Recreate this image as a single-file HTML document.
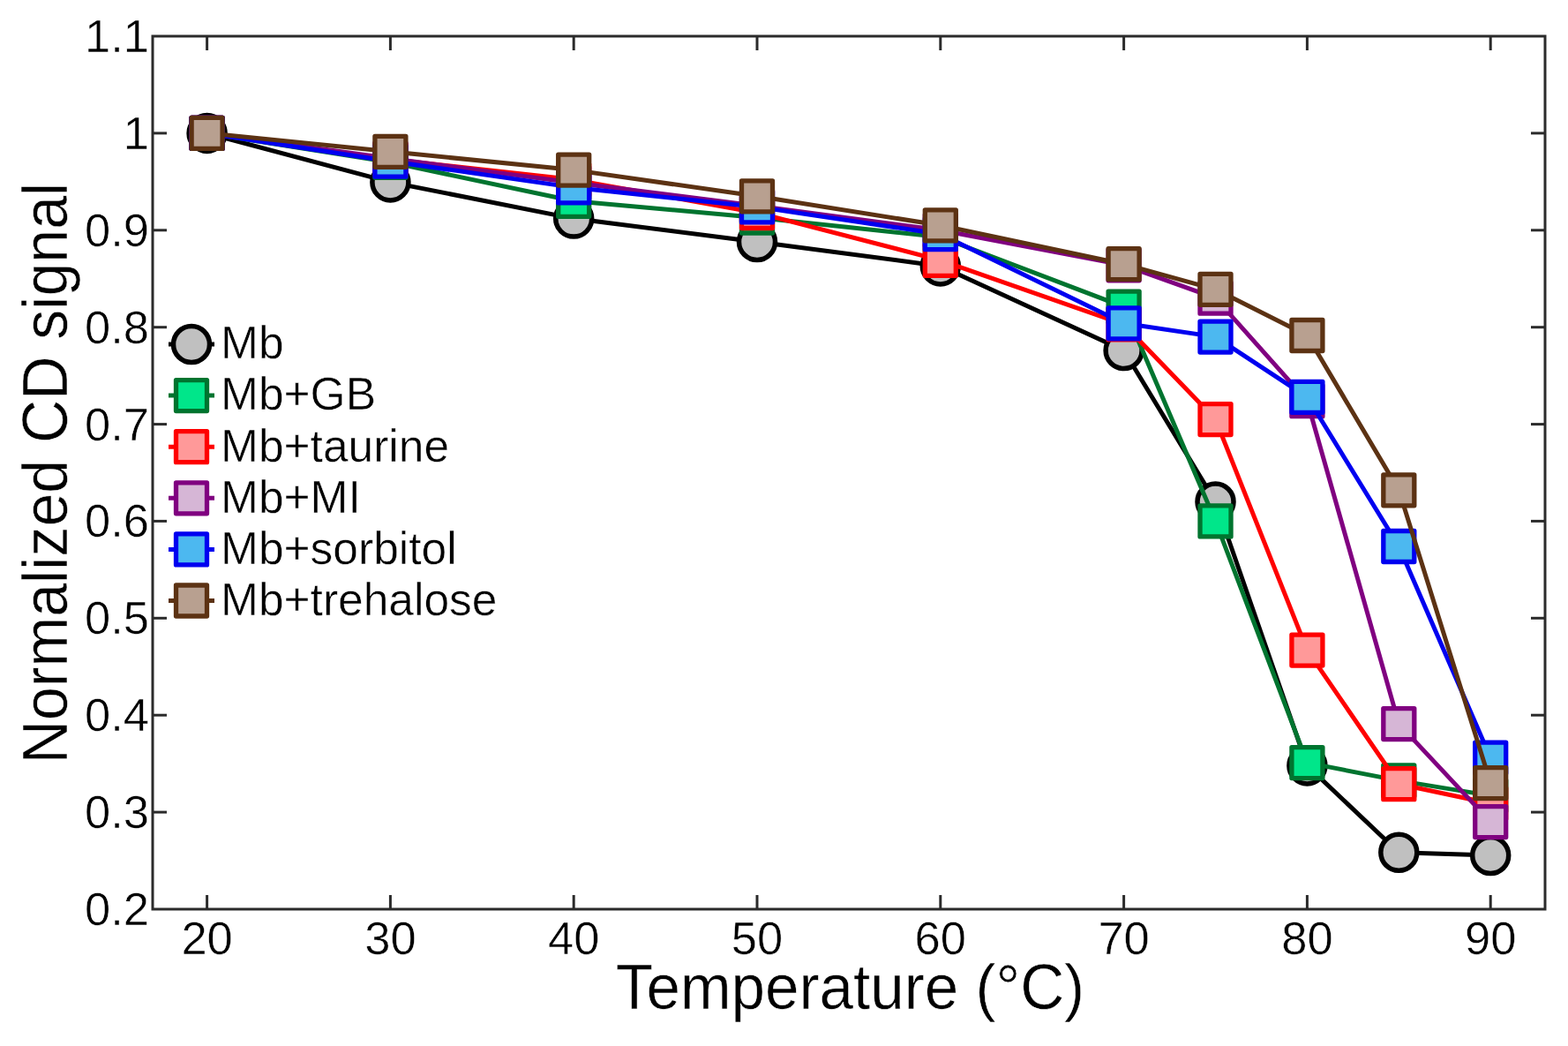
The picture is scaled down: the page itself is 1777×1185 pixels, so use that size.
<!DOCTYPE html>
<html><head><meta charset="utf-8"><title>Normalized CD signal vs Temperature</title>
<style>html,body{margin:0;padding:0;background:#fff;width:1777px;height:1185px;overflow:hidden}svg{display:block}</style>
</head><body>
<svg width="1777" height="1185" viewBox="0 0 1777 1185">
<rect width="1777" height="1185" fill="#ffffff"/>

<g font-family="'Liberation Sans', Arial, sans-serif" fill="#000" stroke="#fff" stroke-width="0.5">
<text x="234.6" y="1081" text-anchor="middle" font-size="52.5">20</text>
<text x="442.4" y="1081" text-anchor="middle" font-size="52.5">30</text>
<text x="650.2" y="1081" text-anchor="middle" font-size="52.5">40</text>
<text x="858.0" y="1081" text-anchor="middle" font-size="52.5">50</text>
<text x="1065.8" y="1081" text-anchor="middle" font-size="52.5">60</text>
<text x="1273.6" y="1081" text-anchor="middle" font-size="52.5">70</text>
<text x="1481.4" y="1081" text-anchor="middle" font-size="52.5">80</text>
<text x="1689.2" y="1081" text-anchor="middle" font-size="52.5">90</text>
<text x="169" y="1048.0" text-anchor="end" font-size="52.5">0.2</text>
<text x="169" y="938.1" text-anchor="end" font-size="52.5">0.3</text>
<text x="169" y="828.2" text-anchor="end" font-size="52.5">0.4</text>
<text x="169" y="718.3" text-anchor="end" font-size="52.5">0.5</text>
<text x="169" y="608.4" text-anchor="end" font-size="52.5">0.6</text>
<text x="169" y="498.6" text-anchor="end" font-size="52.5">0.7</text>
<text x="169" y="388.7" text-anchor="end" font-size="52.5">0.8</text>
<text x="169" y="278.8" text-anchor="end" font-size="52.5">0.9</text>
<text x="169" y="168.9" text-anchor="end" font-size="52.5">1</text>
<text x="169" y="59.0" text-anchor="end" font-size="52.5">1.1</text>
<text transform="translate(963.5,1143.3) scale(1,1.05)" text-anchor="middle" font-size="69.2">Temperature (°C)</text>
<text transform="translate(76,536) rotate(-90) scale(1,1.05)" text-anchor="middle" font-size="68.1">Normalized CD signal</text>
</g>
<rect x="173" y="41" width="1578" height="989" fill="none" stroke="#2b2b2b" stroke-width="3"/>
<line x1="234.6" y1="1030" x2="234.6" y2="1014" stroke="#2b2b2b" stroke-width="3"/>
<line x1="234.6" y1="41" x2="234.6" y2="57" stroke="#2b2b2b" stroke-width="3"/>
<line x1="442.4" y1="1030" x2="442.4" y2="1014" stroke="#2b2b2b" stroke-width="3"/>
<line x1="442.4" y1="41" x2="442.4" y2="57" stroke="#2b2b2b" stroke-width="3"/>
<line x1="650.2" y1="1030" x2="650.2" y2="1014" stroke="#2b2b2b" stroke-width="3"/>
<line x1="650.2" y1="41" x2="650.2" y2="57" stroke="#2b2b2b" stroke-width="3"/>
<line x1="858.0" y1="1030" x2="858.0" y2="1014" stroke="#2b2b2b" stroke-width="3"/>
<line x1="858.0" y1="41" x2="858.0" y2="57" stroke="#2b2b2b" stroke-width="3"/>
<line x1="1065.8" y1="1030" x2="1065.8" y2="1014" stroke="#2b2b2b" stroke-width="3"/>
<line x1="1065.8" y1="41" x2="1065.8" y2="57" stroke="#2b2b2b" stroke-width="3"/>
<line x1="1273.6" y1="1030" x2="1273.6" y2="1014" stroke="#2b2b2b" stroke-width="3"/>
<line x1="1273.6" y1="41" x2="1273.6" y2="57" stroke="#2b2b2b" stroke-width="3"/>
<line x1="1481.4" y1="1030" x2="1481.4" y2="1014" stroke="#2b2b2b" stroke-width="3"/>
<line x1="1481.4" y1="41" x2="1481.4" y2="57" stroke="#2b2b2b" stroke-width="3"/>
<line x1="1689.2" y1="1030" x2="1689.2" y2="1014" stroke="#2b2b2b" stroke-width="3"/>
<line x1="1689.2" y1="41" x2="1689.2" y2="57" stroke="#2b2b2b" stroke-width="3"/>
<line x1="173" y1="920.1" x2="189" y2="920.1" stroke="#2b2b2b" stroke-width="3"/>
<line x1="1751" y1="920.1" x2="1735" y2="920.1" stroke="#2b2b2b" stroke-width="3"/>
<line x1="173" y1="810.2" x2="189" y2="810.2" stroke="#2b2b2b" stroke-width="3"/>
<line x1="1751" y1="810.2" x2="1735" y2="810.2" stroke="#2b2b2b" stroke-width="3"/>
<line x1="173" y1="700.3" x2="189" y2="700.3" stroke="#2b2b2b" stroke-width="3"/>
<line x1="1751" y1="700.3" x2="1735" y2="700.3" stroke="#2b2b2b" stroke-width="3"/>
<line x1="173" y1="590.4" x2="189" y2="590.4" stroke="#2b2b2b" stroke-width="3"/>
<line x1="1751" y1="590.4" x2="1735" y2="590.4" stroke="#2b2b2b" stroke-width="3"/>
<line x1="173" y1="480.6" x2="189" y2="480.6" stroke="#2b2b2b" stroke-width="3"/>
<line x1="1751" y1="480.6" x2="1735" y2="480.6" stroke="#2b2b2b" stroke-width="3"/>
<line x1="173" y1="370.7" x2="189" y2="370.7" stroke="#2b2b2b" stroke-width="3"/>
<line x1="1751" y1="370.7" x2="1735" y2="370.7" stroke="#2b2b2b" stroke-width="3"/>
<line x1="173" y1="260.8" x2="189" y2="260.8" stroke="#2b2b2b" stroke-width="3"/>
<line x1="1751" y1="260.8" x2="1735" y2="260.8" stroke="#2b2b2b" stroke-width="3"/>
<line x1="173" y1="150.9" x2="189" y2="150.9" stroke="#2b2b2b" stroke-width="3"/>
<line x1="1751" y1="150.9" x2="1735" y2="150.9" stroke="#2b2b2b" stroke-width="3"/>
<polyline points="234.6,150.9 442.4,206.4 650.2,247.6 858.0,274.0 1065.8,301.4 1273.6,397.0 1377.5,568.5 1481.4,867.4 1585.3,965.7 1689.2,969.0" fill="none" stroke="#000000" stroke-width="5" stroke-linejoin="round"/>
<circle cx="234.6" cy="150.9" r="20.5" fill="#c0c0c0" stroke="#000000" stroke-width="5.5"/>
<circle cx="442.4" cy="206.4" r="20.5" fill="#c0c0c0" stroke="#000000" stroke-width="5.5"/>
<circle cx="650.2" cy="247.6" r="20.5" fill="#c0c0c0" stroke="#000000" stroke-width="5.5"/>
<circle cx="858.0" cy="274.0" r="20.5" fill="#c0c0c0" stroke="#000000" stroke-width="5.5"/>
<circle cx="1065.8" cy="301.4" r="20.5" fill="#c0c0c0" stroke="#000000" stroke-width="5.5"/>
<circle cx="1273.6" cy="397.0" r="20.5" fill="#c0c0c0" stroke="#000000" stroke-width="5.5"/>
<circle cx="1377.5" cy="568.5" r="20.5" fill="#c0c0c0" stroke="#000000" stroke-width="5.5"/>
<circle cx="1481.4" cy="867.4" r="20.5" fill="#c0c0c0" stroke="#000000" stroke-width="5.5"/>
<circle cx="1585.3" cy="965.7" r="20.5" fill="#c0c0c0" stroke="#000000" stroke-width="5.5"/>
<circle cx="1689.2" cy="969.0" r="20.5" fill="#c0c0c0" stroke="#000000" stroke-width="5.5"/>
<polyline points="234.6,150.9 442.4,183.8 650.2,227.8 858.0,246.5 1065.8,268.5 1273.6,347.6 1377.5,590.4 1481.4,864.1 1585.3,884.4 1689.2,901.4" fill="none" stroke="#00742f" stroke-width="5" stroke-linejoin="round"/>
<rect x="217.1" y="133.4" width="35" height="35" fill="#00e68a" stroke="#00742f" stroke-width="5.3" stroke-linejoin="round"/>
<rect x="424.9" y="166.3" width="35" height="35" fill="#00e68a" stroke="#00742f" stroke-width="5.3" stroke-linejoin="round"/>
<rect x="632.7" y="210.3" width="35" height="35" fill="#00e68a" stroke="#00742f" stroke-width="5.3" stroke-linejoin="round"/>
<rect x="840.5" y="229.0" width="35" height="35" fill="#00e68a" stroke="#00742f" stroke-width="5.3" stroke-linejoin="round"/>
<rect x="1048.3" y="251.0" width="35" height="35" fill="#00e68a" stroke="#00742f" stroke-width="5.3" stroke-linejoin="round"/>
<rect x="1256.1" y="330.1" width="35" height="35" fill="#00e68a" stroke="#00742f" stroke-width="5.3" stroke-linejoin="round"/>
<rect x="1360.0" y="572.9" width="35" height="35" fill="#00e68a" stroke="#00742f" stroke-width="5.3" stroke-linejoin="round"/>
<rect x="1463.9" y="846.6" width="35" height="35" fill="#00e68a" stroke="#00742f" stroke-width="5.3" stroke-linejoin="round"/>
<rect x="1567.8" y="866.9" width="35" height="35" fill="#00e68a" stroke="#00742f" stroke-width="5.3" stroke-linejoin="round"/>
<rect x="1671.7" y="883.9" width="35" height="35" fill="#00e68a" stroke="#00742f" stroke-width="5.3" stroke-linejoin="round"/>
<polyline points="234.6,150.9 442.4,180.6 650.2,203.6 858.0,241.0 1065.8,294.8 1273.6,367.4 1377.5,475.1 1481.4,736.6 1585.3,888.2 1689.2,910.2" fill="none" stroke="#ff0000" stroke-width="5" stroke-linejoin="round"/>
<rect x="217.1" y="133.4" width="35" height="35" fill="#ff9999" stroke="#ff0000" stroke-width="5.3" stroke-linejoin="round"/>
<rect x="424.9" y="163.1" width="35" height="35" fill="#ff9999" stroke="#ff0000" stroke-width="5.3" stroke-linejoin="round"/>
<rect x="632.7" y="186.1" width="35" height="35" fill="#ff9999" stroke="#ff0000" stroke-width="5.3" stroke-linejoin="round"/>
<rect x="840.5" y="223.5" width="35" height="35" fill="#ff9999" stroke="#ff0000" stroke-width="5.3" stroke-linejoin="round"/>
<rect x="1048.3" y="277.3" width="35" height="35" fill="#ff9999" stroke="#ff0000" stroke-width="5.3" stroke-linejoin="round"/>
<rect x="1256.1" y="349.9" width="35" height="35" fill="#ff9999" stroke="#ff0000" stroke-width="5.3" stroke-linejoin="round"/>
<rect x="1360.0" y="457.6" width="35" height="35" fill="#ff9999" stroke="#ff0000" stroke-width="5.3" stroke-linejoin="round"/>
<rect x="1463.9" y="719.1" width="35" height="35" fill="#ff9999" stroke="#ff0000" stroke-width="5.3" stroke-linejoin="round"/>
<rect x="1567.8" y="870.7" width="35" height="35" fill="#ff9999" stroke="#ff0000" stroke-width="5.3" stroke-linejoin="round"/>
<rect x="1671.7" y="892.7" width="35" height="35" fill="#ff9999" stroke="#ff0000" stroke-width="5.3" stroke-linejoin="round"/>
<polyline points="234.6,150.9 442.4,179.5 650.2,206.9 858.0,233.3 1065.8,260.8 1273.6,300.3 1377.5,337.7 1481.4,454.2 1585.3,820.1 1689.2,931.1" fill="none" stroke="#800080" stroke-width="5" stroke-linejoin="round"/>
<rect x="217.1" y="133.4" width="35" height="35" fill="#d6b6d6" stroke="#800080" stroke-width="5.3" stroke-linejoin="round"/>
<rect x="424.9" y="162.0" width="35" height="35" fill="#d6b6d6" stroke="#800080" stroke-width="5.3" stroke-linejoin="round"/>
<rect x="632.7" y="189.4" width="35" height="35" fill="#d6b6d6" stroke="#800080" stroke-width="5.3" stroke-linejoin="round"/>
<rect x="840.5" y="215.8" width="35" height="35" fill="#d6b6d6" stroke="#800080" stroke-width="5.3" stroke-linejoin="round"/>
<rect x="1048.3" y="243.3" width="35" height="35" fill="#d6b6d6" stroke="#800080" stroke-width="5.3" stroke-linejoin="round"/>
<rect x="1256.1" y="282.8" width="35" height="35" fill="#d6b6d6" stroke="#800080" stroke-width="5.3" stroke-linejoin="round"/>
<rect x="1360.0" y="320.2" width="35" height="35" fill="#d6b6d6" stroke="#800080" stroke-width="5.3" stroke-linejoin="round"/>
<rect x="1463.9" y="436.7" width="35" height="35" fill="#d6b6d6" stroke="#800080" stroke-width="5.3" stroke-linejoin="round"/>
<rect x="1567.8" y="802.6" width="35" height="35" fill="#d6b6d6" stroke="#800080" stroke-width="5.3" stroke-linejoin="round"/>
<rect x="1671.7" y="913.6" width="35" height="35" fill="#d6b6d6" stroke="#800080" stroke-width="5.3" stroke-linejoin="round"/>
<polyline points="234.6,150.9 442.4,182.7 650.2,212.4 858.0,234.4 1065.8,265.2 1273.6,366.3 1377.5,381.6 1481.4,449.8 1585.3,619.0 1689.2,858.6" fill="none" stroke="#0000f0" stroke-width="5" stroke-linejoin="round"/>
<rect x="217.1" y="133.4" width="35" height="35" fill="#4cb8f0" stroke="#0000f0" stroke-width="5.3" stroke-linejoin="round"/>
<rect x="424.9" y="165.2" width="35" height="35" fill="#4cb8f0" stroke="#0000f0" stroke-width="5.3" stroke-linejoin="round"/>
<rect x="632.7" y="194.9" width="35" height="35" fill="#4cb8f0" stroke="#0000f0" stroke-width="5.3" stroke-linejoin="round"/>
<rect x="840.5" y="216.9" width="35" height="35" fill="#4cb8f0" stroke="#0000f0" stroke-width="5.3" stroke-linejoin="round"/>
<rect x="1048.3" y="247.7" width="35" height="35" fill="#4cb8f0" stroke="#0000f0" stroke-width="5.3" stroke-linejoin="round"/>
<rect x="1256.1" y="348.8" width="35" height="35" fill="#4cb8f0" stroke="#0000f0" stroke-width="5.3" stroke-linejoin="round"/>
<rect x="1360.0" y="364.1" width="35" height="35" fill="#4cb8f0" stroke="#0000f0" stroke-width="5.3" stroke-linejoin="round"/>
<rect x="1463.9" y="432.3" width="35" height="35" fill="#4cb8f0" stroke="#0000f0" stroke-width="5.3" stroke-linejoin="round"/>
<rect x="1567.8" y="601.5" width="35" height="35" fill="#4cb8f0" stroke="#0000f0" stroke-width="5.3" stroke-linejoin="round"/>
<rect x="1671.7" y="841.1" width="35" height="35" fill="#4cb8f0" stroke="#0000f0" stroke-width="5.3" stroke-linejoin="round"/>
<polyline points="234.6,150.9 442.4,171.8 650.2,192.6 858.0,222.3 1065.8,255.3 1273.6,299.2 1377.5,327.8 1481.4,380.0 1585.3,555.3 1689.2,887.1" fill="none" stroke="#5c3213" stroke-width="5" stroke-linejoin="round"/>
<rect x="217.1" y="133.4" width="35" height="35" fill="#b8a090" stroke="#5c3213" stroke-width="5.3" stroke-linejoin="round"/>
<rect x="424.9" y="154.3" width="35" height="35" fill="#b8a090" stroke="#5c3213" stroke-width="5.3" stroke-linejoin="round"/>
<rect x="632.7" y="175.1" width="35" height="35" fill="#b8a090" stroke="#5c3213" stroke-width="5.3" stroke-linejoin="round"/>
<rect x="840.5" y="204.8" width="35" height="35" fill="#b8a090" stroke="#5c3213" stroke-width="5.3" stroke-linejoin="round"/>
<rect x="1048.3" y="237.8" width="35" height="35" fill="#b8a090" stroke="#5c3213" stroke-width="5.3" stroke-linejoin="round"/>
<rect x="1256.1" y="281.7" width="35" height="35" fill="#b8a090" stroke="#5c3213" stroke-width="5.3" stroke-linejoin="round"/>
<rect x="1360.0" y="310.3" width="35" height="35" fill="#b8a090" stroke="#5c3213" stroke-width="5.3" stroke-linejoin="round"/>
<rect x="1463.9" y="362.5" width="35" height="35" fill="#b8a090" stroke="#5c3213" stroke-width="5.3" stroke-linejoin="round"/>
<rect x="1567.8" y="537.8" width="35" height="35" fill="#b8a090" stroke="#5c3213" stroke-width="5.3" stroke-linejoin="round"/>
<rect x="1671.7" y="869.6" width="35" height="35" fill="#b8a090" stroke="#5c3213" stroke-width="5.3" stroke-linejoin="round"/>
<g font-family="'Liberation Sans', Arial, sans-serif" fill="#000" stroke="#fff" stroke-width="0.5">
<line x1="191" y1="390.0" x2="243" y2="390.0" stroke="#000000" stroke-width="5"/>
<circle cx="217.0" cy="390.0" r="20.5" fill="#c0c0c0" stroke="#000000" stroke-width="5.5"/>
<text x="250" y="406.3" font-size="51.5">Mb</text>
<line x1="191" y1="448.1" x2="243" y2="448.1" stroke="#00742f" stroke-width="5"/>
<rect x="199.5" y="430.6" width="35" height="35" fill="#00e68a" stroke="#00742f" stroke-width="5.3" stroke-linejoin="round"/>
<text x="250" y="464.4" font-size="51.5">Mb+GB</text>
<line x1="191" y1="506.2" x2="243" y2="506.2" stroke="#ff0000" stroke-width="5"/>
<rect x="199.5" y="488.7" width="35" height="35" fill="#ff9999" stroke="#ff0000" stroke-width="5.3" stroke-linejoin="round"/>
<text x="250" y="522.5" font-size="51.5">Mb+taurine</text>
<line x1="191" y1="564.3" x2="243" y2="564.3" stroke="#800080" stroke-width="5"/>
<rect x="199.5" y="546.8" width="35" height="35" fill="#d6b6d6" stroke="#800080" stroke-width="5.3" stroke-linejoin="round"/>
<text x="250" y="580.6" font-size="51.5">Mb+MI</text>
<line x1="191" y1="622.4" x2="243" y2="622.4" stroke="#0000f0" stroke-width="5"/>
<rect x="199.5" y="604.9" width="35" height="35" fill="#4cb8f0" stroke="#0000f0" stroke-width="5.3" stroke-linejoin="round"/>
<text x="250" y="638.7" font-size="51.5">Mb+sorbitol</text>
<line x1="191" y1="680.5" x2="243" y2="680.5" stroke="#5c3213" stroke-width="5"/>
<rect x="199.5" y="663.0" width="35" height="35" fill="#b8a090" stroke="#5c3213" stroke-width="5.3" stroke-linejoin="round"/>
<text x="250" y="696.8" font-size="51.5">Mb+trehalose</text>
</g>

</svg>
</body></html>
